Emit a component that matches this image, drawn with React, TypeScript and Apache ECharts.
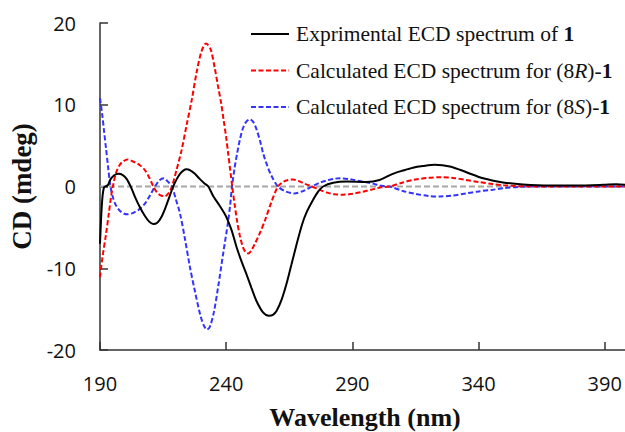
import React, { useEffect, useRef } from "react";
import * as echarts from "echarts";

const xTicks = [190, 240, 290, 340, 390];
const yTicks = [-20, -10, 0, 10, 20];

const expWl = [190, 190.5, 191, 191.6, 192.4, 193.2, 194.2, 195.5, 197.3, 199, 200.6, 202.3, 203.9, 205.9, 207.8, 209.5, 211.1, 212.8, 214.4, 215.8, 217, 219, 220.4, 221.7, 223, 224.3, 225.9, 227.6, 229.6, 231.3, 232.9, 234.9, 237.3, 239.5, 240.6, 242.2, 244.1, 246, 248, 250, 252, 254.6, 256.9, 258.5, 260, 262, 263.9, 265.8, 267.8, 270, 271.8, 274.5, 276.5, 278.4, 282.4, 287.7, 295.6, 300.8, 306, 310, 314, 318, 322.6, 328.6, 335.2, 341.8, 349.7, 357.6, 368, 378.7, 389.3, 394.6, 400];
const expCd = [-7, -3.5, -1.2, -0.1, 0.05, 0.2, 0.9, 1.35, 1.55, 1.4, 0.9, -0.1, -1.3, -2.6, -3.6, -4.3, -4.6, -4.4, -3.7, -2.7, -1.7, 0, 0.9, 1.55, 1.95, 2.1, 1.95, 1.55, 0.9, 0.4, 0, -1.2, -2.3, -3.4, -4.1, -5.4, -7.4, -9.1, -10.7, -12.4, -14, -15.4, -15.8, -15.7, -15.2, -13.8, -11.9, -9.6, -7.2, -4.7, -3.2, -1.6, -0.6, 0, 0.45, 0.6, 0.55, 0.8, 1.55, 1.95, 2.3, 2.5, 2.65, 2.45, 1.75, 1.0, 0.5, 0.25, 0.12, 0.12, 0.2, 0.28, 0.15];

const rWl = [190, 191, 192.3, 193.5, 194.5, 195.3, 196.5, 198.5, 201, 203.5, 205.8, 207.8, 209.5, 211, 212.3, 213.8, 215.7, 217.2, 218.5, 220.3, 222.3, 224.3, 226.3, 228.3, 230.2, 232, 233.8, 235.4, 236.8, 238, 239, 240, 240.8, 241.6, 242.4, 243.3, 244.3, 245.4, 246.5, 247.6, 248.7, 249.8, 251.2, 253.2, 255.3, 257.8, 260.5, 262.5, 264.5, 266.4, 268.5, 271, 274, 277, 280, 283, 286.3, 290, 294, 298, 301.5, 304.8, 310, 315, 320, 325.3, 330, 335, 340, 345.6, 350, 356, 365, 380, 400];
const rCd = [-11.1, -8.6, -6, -3.3, -1.0, 0.3, 1.8, 2.9, 3.3, 3.0, 2.6, 2.0, 1.1, 0.1, -0.6, -1.05, -1.2, -0.8, 0, 2.0, 4.4, 7.5, 10.5, 14, 16.5, 17.5, 16.8, 14.6, 12.2, 10.2, 8.1, 6.0, 4.0, 2.0, 0, -2.1, -4.2, -6, -7.3, -8.0, -8.2, -7.9, -7.1, -5.8, -4.2, -2.0, 0, 0.55, 0.8, 0.85, 0.7, 0.35, 0, -0.4, -0.75, -0.95, -1.0, -0.9, -0.65, -0.35, -0.1, 0, 0.5, 0.85, 1.05, 1.14, 1.05, 0.8, 0.55, 0.3, 0.15, 0.04, 0, 0, 0];

const sWl = [190, 190.8, 191.6, 192.4, 193.2, 194, 195, 196.3, 198.3, 200.6, 203, 205.5, 207.8, 209.8, 211.8, 213.5, 215.3, 216.9, 218.5, 220, 221.7, 223.6, 225.6, 227.6, 229.8, 231.3, 232.4, 233.6, 235.1, 236.8, 238.8, 240.8, 241.6, 242.3, 243.3, 244.3, 245.4, 246.5, 247.9, 249.4, 250.7, 252, 253.4, 254.7, 256.2, 257.8, 260.5, 263.5, 267, 270.5, 274, 277, 280, 283, 285, 289, 294, 298, 301.5, 304.8, 310, 315, 320, 324.6, 330, 335, 340, 345.6, 350, 356, 365, 380, 400];
const sCd = [10.8, 9, 6.8, 4.6, 2.4, 0.3, -1.2, -2.3, -3.1, -3.4, -3.25, -2.8, -2.1, -1.1, 0, 0.75, 1.0, 0.6, 0, -1.5, -3.3, -6.3, -9.8, -12.8, -15.8, -17.1, -17.5, -17.1, -15.4, -12.3, -8.2, -4.2, -2.2, 0, 2.2, 4.0, 5.7, 7.0, 7.9, 8.2, 7.9, 7.0, 5.6, 4.0, 2.6, 1.4, 0, -0.6, -0.85, -0.55, 0, 0.45, 0.75, 0.95, 1.0, 0.9, 0.6, 0.35, 0.1, 0, -0.55, -0.9, -1.15, -1.22, -1.1, -0.85, -0.6, -0.4, -0.2, -0.05, 0, 0, 0];

const zeroWl = [190, 400];
const zeroCd = [0, 0];

const seriesNames = ["exp", "calcR", "calcS"];

const zip = (a: number[], b: number[]) => a.map((v, i) => [v, b[i]]);

export default function App() {
  const ref = useRef<HTMLDivElement>(null);
  useEffect(() => {
    if (!ref.current) return;
    const chart = echarts.init(ref.current, undefined, { renderer: "svg" });
    const dash = [5, 2.5];
    const lf = 21.5;
    chart.setOption({
      animation: false,
      backgroundColor: "#fff",
      grid: { left: 100, top: 23, width: 530, height: 327, outerBoundsMode: "none", containLabel: false },
      legend: {
        data: seriesNames,
        orient: "vertical",
        left: 250,
        top: 23,
        padding: 0,
        itemWidth: 38,
        itemHeight: 20,
        itemGap: 14.5,
        itemStyle: { opacity: 0 },
        formatter: (n: string) => {
          if (n === "exp") return "Exprimental ECD spectrum of {b|1}";
          if (n === "calcR") return "Calculated ECD spectrum for (8{i|R})-{b|1}";
          return "Calculated ECD spectrum for (8{i|S})-{b|1}";
        },
        textStyle: {
          fontFamily: "Liberation Serif",
          fontSize: lf,
          color: "#111",
          padding: [0, 0, 0, 2],
          rich: {
            b: { fontFamily: "Liberation Serif", fontSize: lf, fontWeight: "bold", color: "#111" },
            i: { fontFamily: "Liberation Serif", fontSize: lf, fontStyle: "italic", color: "#111" },
          },
        },
      },
      xAxis: {
        type: "value",
        min: 190,
        max: 400,
        interval: 50,
        name: "Wavelength (nm)",
        nameLocation: "middle",
        nameGap: 54,
        nameTextStyle: { fontFamily: "Liberation Serif", fontWeight: "bold", fontSize: 26, color: "#111" },
        axisLine: { onZero: false, lineStyle: { color: "#333", width: 1.5 } },
        axisTick: { inside: true, length: 8, lineStyle: { color: "#333", width: 1.5 } },
        axisLabel: {
          showMaxLabel: false,
          margin: 23,
          fontFamily: "Open Sans",
          fontSize: 20,
          color: "#111",
          formatter: (v: number) => (xTicks.includes(v) ? String(v) : ""),
        },
        splitLine: { show: false },
      },
      yAxis: {
        type: "value",
        min: -20,
        max: 20,
        interval: 10,
        name: "CD (mdeg)",
        nameLocation: "middle",
        nameGap: 61,
        nameTextStyle: { fontFamily: "Liberation Serif", fontWeight: "bold", fontSize: 27, color: "#111" },
        axisLine: { show: true, lineStyle: { color: "#333", width: 1.5 } },
        axisTick: { show: true, inside: true, length: 8, lineStyle: { color: "#333", width: 1.5 } },
        axisLabel: {
          margin: 24,
          fontFamily: "Open Sans",
          fontSize: 20,
          color: "#111",
          formatter: (v: number) => (yTicks.includes(v) ? String(v) : ""),
        },
        splitLine: { show: false },
      },
      series: [
        {
          name: "zero",
          type: "line",
          data: zip(zeroWl, zeroCd),
          symbol: "none",
          silent: true,
          lineStyle: { color: "#A6A6A6", width: 2, type: [6, 3] },
          z: 1,
        },
        {
          name: "exp",
          type: "line",
          data: zip(expWl, expCd),
          symbol: "none",
          smooth: 0.3,
          color: "#000",
          lineStyle: { color: "#000", width: 2 },
          z: 4,
        },
        {
          name: "calcR",
          type: "line",
          data: zip(rWl, rCd),
          symbol: "none",
          smooth: 0.3,
          color: "#FF0000",
          lineStyle: { color: "#FF0000", width: 2, type: dash },
          z: 3,
        },
        {
          name: "calcS",
          type: "line",
          data: zip(sWl, sCd),
          symbol: "none",
          smooth: 0.3,
          color: "#3333FF",
          lineStyle: { color: "#3333FF", width: 2, type: dash },
          z: 2,
        },
      ],
    });
    return () => chart.dispose();
  }, []);
  return <div ref={ref} style={{ position: "fixed", left: 0, top: 0, width: 625, height: 432 }} />;
}
